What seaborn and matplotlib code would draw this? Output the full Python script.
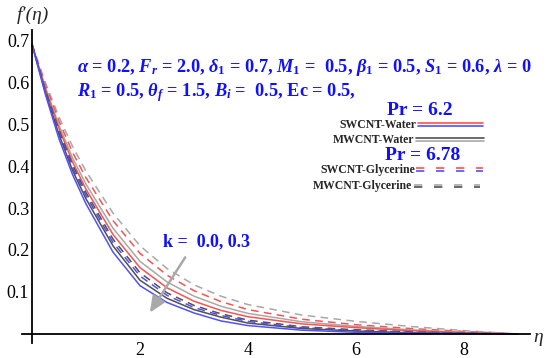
import numpy as np
import pandas as pd
import matplotlib
matplotlib.use("Agg")
import matplotlib.pyplot as plt
import seaborn as sns
from matplotlib.ticker import MultipleLocator, FixedLocator

# ---------------- data ----------------
eta = [0, 0.25, 0.5, 0.75, 1, 1.5, 2, 2.5, 3, 3.5, 4, 5, 6, 7, 8, 9]

# k = 0.3 (lower curves)
sw_water_k03 = [0.69, 0.570, 0.465, 0.380, 0.310, 0.195, 0.115, 0.075, 0.050, 0.031, 0.020, 0.009, 0.004, 0.002, 0.001, 0]
mw_water_k03 = [0.69, 0.575, 0.475, 0.390, 0.322, 0.210, 0.128, 0.085, 0.058, 0.040, 0.026, 0.013, 0.007, 0.003, 0.001, 0]
sw_gly_k03   = [0.69, 0.578, 0.480, 0.397, 0.330, 0.218, 0.138, 0.092, 0.063, 0.044, 0.030, 0.015, 0.008, 0.004, 0.0015, 0]
mw_gly_k03   = [0.69, 0.580, 0.485, 0.403, 0.337, 0.226, 0.146, 0.098, 0.068, 0.048, 0.033, 0.017, 0.010, 0.005, 0.002, 0]
# k = 0.0 (upper curves)
sw_water_k0  = [0.69, 0.583, 0.490, 0.410, 0.345, 0.237, 0.158, 0.110, 0.078, 0.056, 0.041, 0.024, 0.015, 0.008, 0.003, 0]
mw_water_k0  = [0.69, 0.587, 0.497, 0.420, 0.357, 0.252, 0.173, 0.124, 0.090, 0.066, 0.049, 0.029, 0.018, 0.010, 0.004, 0]
sw_gly_k0    = [0.69, 0.593, 0.507, 0.433, 0.372, 0.270, 0.192, 0.140, 0.103, 0.077, 0.058, 0.035, 0.022, 0.013, 0.006, 0]
mw_gly_k0    = [0.69, 0.598, 0.517, 0.447, 0.388, 0.288, 0.210, 0.156, 0.117, 0.090, 0.070, 0.045, 0.030, 0.018, 0.008, 0]

x_ticks = [2, 4, 6, 8]
y_ticks = [0.1, 0.2, 0.3, 0.4, 0.5, 0.6, 0.7]

RED = "#ff5050"
BLUE = "#5050ff"
LGRAY = "#a8a8a8"
DGRAY = "#505050"
TXTBLUE = "#1010ff"

series = [
    (mw_gly_k0, LGRAY, "dash"), (sw_gly_k0, RED, "dash"),
    (mw_water_k0, LGRAY, "solid"), (sw_water_k0, RED, "solid"),
    (mw_gly_k03, DGRAY, "dash"), (sw_gly_k03, BLUE, "dash"),
    (mw_water_k03, DGRAY, "solid"), (sw_water_k03, BLUE, "solid"),
]

# ---------------- style ----------------
sns.set_theme(style="white")
plt.rcParams["font.family"] = ["Liberation Serif", "DejaVu Serif"]
plt.rcParams["mathtext.fontset"] = "custom"
plt.rcParams["mathtext.rm"] = "Liberation Serif:bold"
plt.rcParams["mathtext.it"] = "Liberation Serif:bold:italic"
plt.rcParams["mathtext.bf"] = "Liberation Serif:bold"

W, H = 550, 358
fig = plt.figure(figsize=(W / 100, H / 100), dpi=100)
ax = fig.add_axes([21.7 / W, 14.8 / H, (529.9 - 21.7) / W, (343.2 - 30) / H])

for vals, col, ls in series:
    kw = dict(linestyle=(0, (5, 3.5))) if ls == "dash" else dict(linestyle="-")
    sns.lineplot(x=eta, y=vals, color=col, lw=1.1, ax=ax, **kw)

ax.set_xlim(-0.19, 9.22)
ax.set_ylim(-0.022, 0.724)

for s in ["top", "right"]:
    ax.spines[s].set_visible(False)
ax.spines["left"].set_position(("data", 0))
ax.spines["bottom"].set_position(("data", 0))
for s in ["left", "bottom"]:
    ax.spines[s].set_linewidth(1.3)
    ax.spines[s].set_color("black")

ax.xaxis.set_major_locator(FixedLocator(x_ticks))
ax.yaxis.set_major_locator(FixedLocator(y_ticks))
ax.xaxis.set_minor_locator(MultipleLocator(0.5))
ax.yaxis.set_minor_locator(MultipleLocator(0.02))
ax.set_xticklabels([str(v) for v in x_ticks])
ax.set_yticklabels([f"{v:.1f}" for v in y_ticks])
ax.tick_params(axis="x", which="major", direction="in", length=4, width=1, pad=6, labelsize=13, colors="black")
ax.tick_params(axis="y", which="major", direction="in", length=4, width=1, pad=2, labelsize=13, colors="black")
ax.tick_params(which="minor", direction="in", length=2, width=0.8, colors="black")
ax.set_xlabel("")
ax.set_ylabel("")

def fx(px):
    return px / W

def fy(py):
    return 1 - py / H

fig.text(fx(32.5), fy(15), "f′(η)", fontsize=14, fontstyle="italic", ha="center", va="center")
fig.text(fx(538), fy(337), "η", fontsize=14, fontstyle="italic", ha="center", va="center")

fig.text(fx(77), fy(71.5),
         r"$\alpha$ = 0.2, $F_r$ = 2.0, $\delta_1$ = 0.7, $M_1$ =  0.5, $\beta_1$ = 0.5, $S_1$ = 0.6, $\lambda$ = 0",
         color=TXTBLUE, fontsize=13.2, fontweight="bold", ha="left", va="baseline")
fig.text(fx(77), fy(96),
         r"$R_1$ = 0.5, $\theta_f$ = 1.5, $B_i$ =  0.5, Ec = 0.5,",
         color=TXTBLUE, fontsize=13.2, fontweight="bold", ha="left", va="baseline")

fig.text(fx(420), fy(115), "Pr = 6.2", color=TXTBLUE, fontsize=14, fontweight="bold", ha="center", va="baseline")
fig.text(fx(422.5), fy(160), "Pr = 6.78", color=TXTBLUE, fontsize=14, fontweight="bold", ha="center", va="baseline")

fig.text(fx(416), fy(128.3), "SWCNT-Water", fontsize=8.5, fontweight="bold", ha="right", va="baseline")
fig.text(fx(414), fy(142.7), "MWCNT-Water", fontsize=8.5, fontweight="bold", ha="right", va="baseline")
fig.text(fx(415), fy(173.3), "SWCNT-Glycerine", fontsize=8.5, fontweight="bold", ha="right", va="baseline")
fig.text(fx(412), fy(189.3), "MWCNT-Glycerine", fontsize=8.5, fontweight="bold", ha="right", va="baseline")

# legend keys (decoration)
def key(x0, x1, py, col, dashed):
    ls = (0, (5, 7)) if dashed else "-"
    fig.add_artist(plt.Line2D([fx(x0), fx(x1)], [fy(py), fy(py)], color=col, lw=1.2,
                              linestyle=ls, transform=fig.transFigure))

key(418, 483, 122.7, RED, False)
key(418, 483, 126.3, BLUE, False)
key(416, 484, 138.0, DGRAY, False)
key(416, 484, 140.6, LGRAY, False)
key(416, 483, 168.3, RED, True)
key(416, 483, 171.0, BLUE, True)
key(414, 480, 184.7, LGRAY, True)
key(414, 480, 187.3, DGRAY, True)

fig.text(fx(163), fy(246.7), "k =  0.0, 0.3", color=TXTBLUE, fontsize=13, fontweight="bold", ha="left", va="baseline")
ax.annotate("", xy=(148.3, H - 315), xytext=(186.7, H - 255), xycoords="figure pixels",
            textcoords="figure pixels",
            arrowprops=dict(arrowstyle="-|>,head_length=0.8,head_width=0.35", color="#a9a9a9", lw=1.8))

fig.savefig("out.png", dpi=100)
